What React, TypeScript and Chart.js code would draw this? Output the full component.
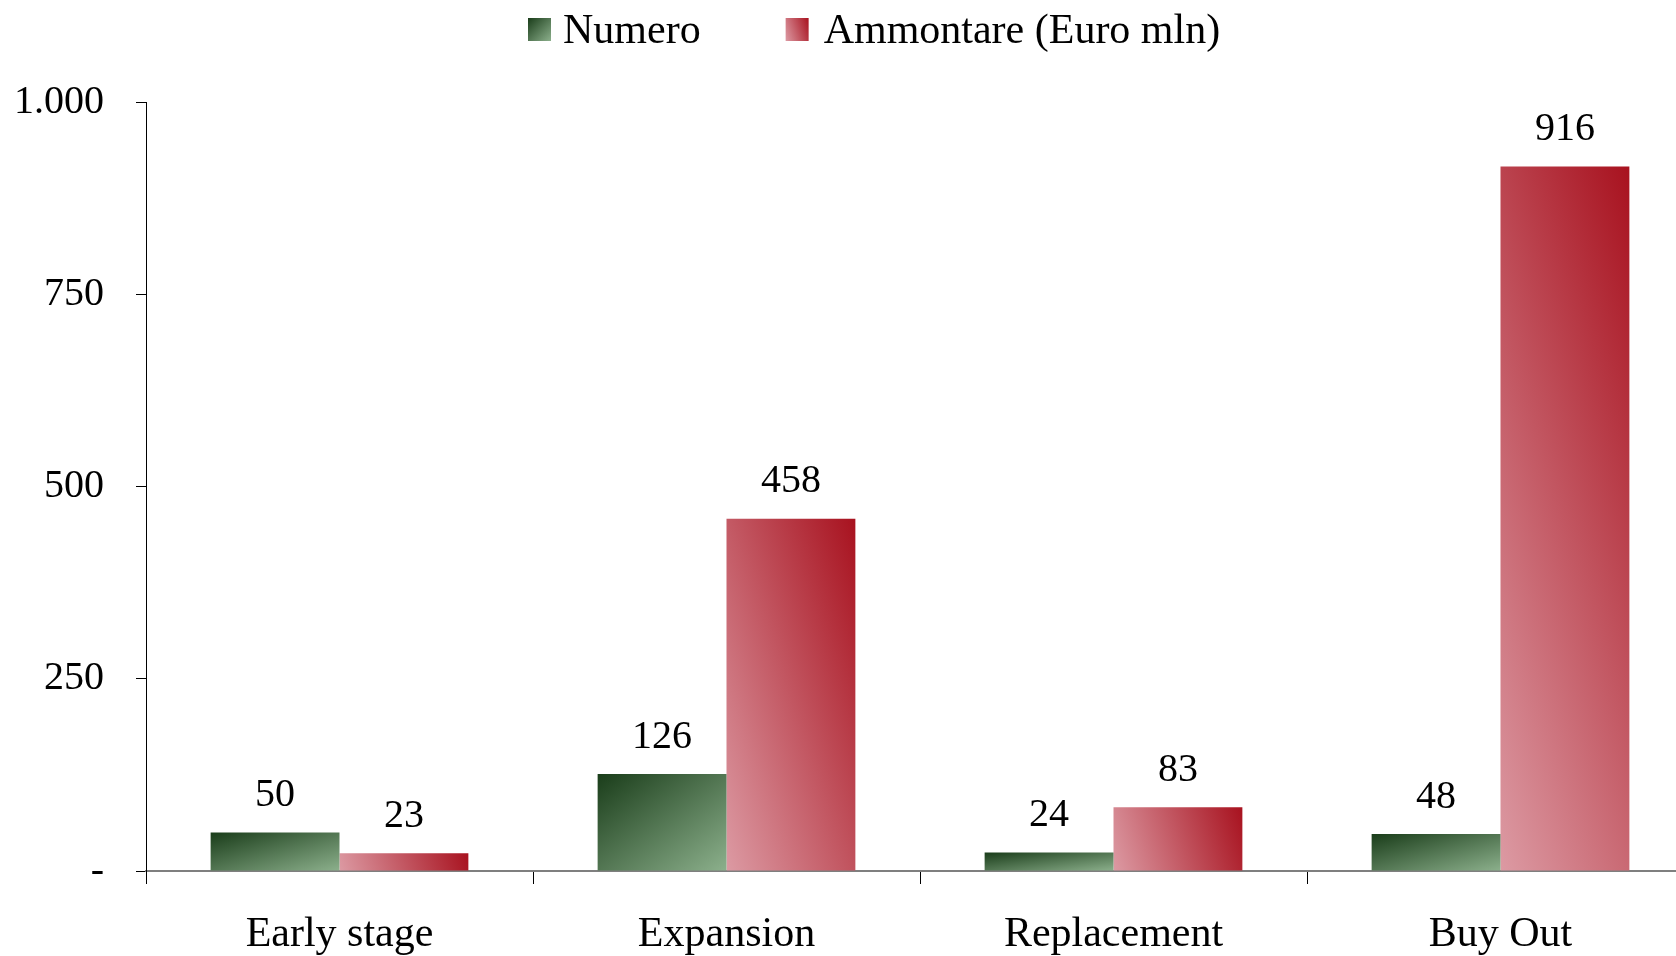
import React, { useEffect, useRef } from "react";
import { Chart, registerables } from "chart.js";

Chart.register(...registerables);

const categories = ["Early stage", "Expansion", "Replacement", "Buy Out"];
const numero = [50, 126, 24, 48];
const ammontare = [23, 458, 83, 916];
const seriesLabels = ["Numero", "Ammontare (Euro mln)"];
const yTicks = [0, 250, 500, 750, 1000];

const FONT = '"Liberation Serif", "Times New Roman", serif';
const CANVAS_W = 1700;
const CANVAS_H = 976;
const CAT_PCT = 0.666;

const GREEN = ["#1a3d1a", "#8cb08c"];
const RED = ["#dc9aa3", "#a8121f"];

function fmt(v: number): string {
  if (v === 0) return "-";
  return String(v).replace(/\B(?=(\d{3})+(?!\d))/g, ".");
}

function ok(...n: number[]) {
  return n.every((v) => Number.isFinite(v));
}

function greenGrad(c: CanvasRenderingContext2D, l: number, t: number, r: number, b: number): any {
  const w = Math.max(r - l, 1);
  const h = Math.max(b - t, 1);
  const k = (2 * w * h) / (w * w + h * h);
  const x1 = l + h * k;
  const y1 = t + w * k;
  if (!ok(l, t, x1, y1)) return GREEN[1];
  const g = c.createLinearGradient(l, t, x1, y1);
  g.addColorStop(0, GREEN[0]);
  g.addColorStop(1, GREEN[1]);
  return g;
}

// red: gradient from bottom-left (light) to top-right (dark), at a fixed shallow angle
function redGrad(c: CanvasRenderingContext2D, l: number, t: number, r: number, b: number): any {
  const w = Math.max(r - l, 1);
  const h = Math.max(b - t, 1);
  const ang = (18 * Math.PI) / 180;
  const dx = Math.cos(ang);
  const dy = Math.sin(ang);
  const len = w * dx + h * dy;
  const x1 = l + dx * len;
  const y1 = b - dy * len;
  if (!ok(l, b, x1, y1)) return RED[0];
  const g = c.createLinearGradient(l, b, x1, y1);
  g.addColorStop(0, RED[0]);
  g.addColorStop(1, RED[1]);
  return g;
}

function barFill(kind: number) {
  return (ctx: any) => {
    const chart = ctx.chart;
    const xs = chart.scales?.x;
    const ys = chart.scales?.y;
    const fallback = kind === 0 ? GREEN[1] : RED[0];
    if (!xs || !ys || ctx.dataIndex === undefined || !chart.chartArea) return fallback;
    const center = xs.getPixelForValue(ctx.dataIndex);
    const catW = xs.width / categories.length;
    const bw = (catW * CAT_PCT) / 2;
    const val = ctx.raw as number;
    const top = ys.getPixelForValue(val);
    const bottom = ys.getPixelForValue(0);
    if (!ok(center, catW, top, bottom) || catW <= 0) return fallback;
    if (kind === 0) return greenGrad(chart.ctx, center - bw, top, center, bottom);
    return redGrad(chart.ctx, center, top, center + bw, bottom);
  };
}

const dataLabelPlugin = {
  id: "dataLabels",
  afterDatasetsDraw(chart: any) {
    const c = chart.ctx;
    c.save();
    c.font = `40px ${FONT}`;
    c.fillStyle = "#000";
    c.textAlign = "center";
    c.textBaseline = "middle";
    chart.data.datasets.forEach((ds: any, di: number) => {
      const meta = chart.getDatasetMeta(di);
      meta.data.forEach((bar: any, i: number) => {
        c.fillText(String(ds.data[i]), bar.x, bar.y - 37);
      });
    });
    c.restore();
  },
};

const legendPlugin = {
  id: "customLegend",
  afterDraw(chart: any) {
    const c = chart.ctx;
    c.save();
    c.font = `42px ${FONT}`;
    c.textAlign = "left";
    c.textBaseline = "alphabetic";
    const box = 23;
    const boxTop = 18;
    const baseline = 43;
    let x = 528;
    c.fillStyle = greenGrad(c, x, boxTop, x + box, boxTop + box);
    c.fillRect(x, boxTop, box, box);
    c.fillStyle = "#000";
    const t1x = x + 35;
    c.fillText(seriesLabels[0], t1x, baseline);
    const w1 = c.measureText(seriesLabels[0]).width;
    x = t1x + w1 + 85;
    c.fillStyle = redGrad(c, x, boxTop, x + box, boxTop + box);
    c.fillRect(x, boxTop, box, box);
    c.fillStyle = "#000";
    c.fillText(seriesLabels[1], x + 38, baseline);
    c.restore();
  },
};

export default function App() {
  const ref = useRef<HTMLCanvasElement | null>(null);

  useEffect(() => {
    if (!ref.current) return;
    const chart = new Chart(ref.current, {
      type: "bar",
      data: {
        labels: categories,
        datasets: [
          {
            label: seriesLabels[0],
            data: numero,
            backgroundColor: barFill(0),
            borderWidth: 0,
            categoryPercentage: CAT_PCT,
            barPercentage: 1,
          },
          {
            label: seriesLabels[1],
            data: ammontare,
            backgroundColor: barFill(1),
            borderWidth: 0,
            categoryPercentage: CAT_PCT,
            barPercentage: 1,
          },
        ],
      },
      options: {
        responsive: false,
        animation: false,
        devicePixelRatio: 1,
        layout: { padding: { top: 102, right: 6, left: 0, bottom: 0 } },
        plugins: {
          legend: { display: false },
          tooltip: { enabled: false },
          title: { display: false },
        },
        scales: {
          x: {
            afterFit: (s: any) => {
              s.height = CANVAS_H - 871;
            },
            grid: {
              offset: true,
              drawOnChartArea: false,
              drawTicks: true,
              tickLength: 13,
              color: "#000",
              lineWidth: 1,
            },
            border: { display: true, color: "#7f7f7f", width: 2 },
            ticks: {
              color: "#000",
              font: { family: FONT, size: 42 },
              padding: 26,
              maxRotation: 0,
              autoSkip: false,
            },
          },
          y: {
            min: 0,
            max: 1000,
            afterFit: (s: any) => {
              s.width = 146;
            },
            afterBuildTicks: (s: any) => {
              s.ticks = yTicks.map((v) => ({ value: v }));
            },
            grid: {
              drawOnChartArea: false,
              drawTicks: true,
              tickLength: 10,
              color: "#000",
              lineWidth: 1,
            },
            border: { display: true, color: "#000", width: 1 },
            ticks: {
              color: "#000",
              font: { family: FONT, size: 40 },
              padding: 32,
              callback: (v: any) => fmt(Number(v)),
            },
          },
        },
      },
      plugins: [dataLabelPlugin, legendPlugin],
    });
    return () => chart.destroy();
  }, []);

  return (
    <div
      style={{
        position: "fixed",
        left: 0,
        top: 0,
        width: 1676,
        height: 956,
        overflow: "hidden",
        background: "#fff",
      }}
    >
      <canvas ref={ref} width={CANVAS_W} height={CANVAS_H} style={{ display: "block" }} />
    </div>
  );
}
